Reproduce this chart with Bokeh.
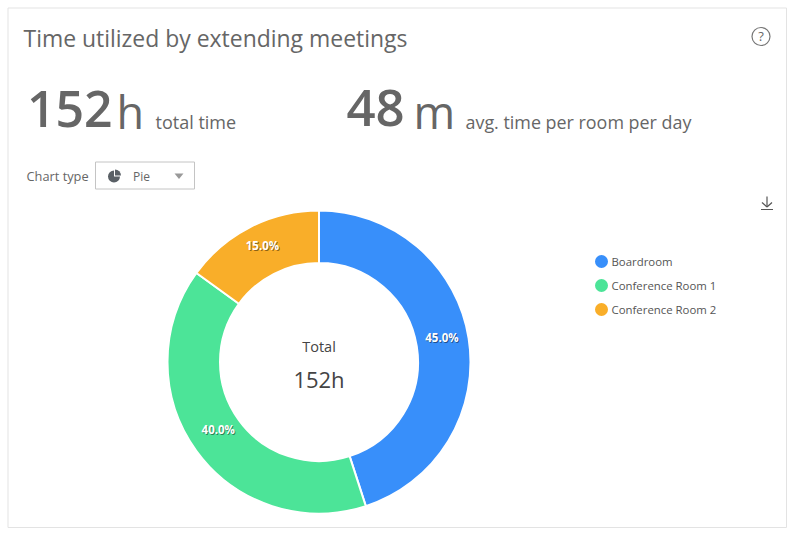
from math import pi, sin, cos

from bokeh.core.properties import value
from bokeh.embed import file_html
from bokeh.models import Range1d
from bokeh.plotting import figure
from bokeh.resources import INLINE

rooms = ["Boardroom", "Conference Room 1", "Conference Room 2"]
shares = [45.0, 40.0, 15.0]
colors = ["#388ffa", "#4ce498", "#f9ae29"]
title_text = "Time utilized by extending meetings"
total_value = "152"
total_unit = "h"
total_label = "total time"
avg_value = "48"
avg_unit = "m"
avg_label = "avg. time per room per day"

FONT = value("Open Sans")
GREY = "#666666"


# y runs upward in bokeh, the layout below is measured from the top of the page
def Y(py):
    return 535 - py


p = figure(width=790, height=530, output_backend="svg", toolbar_location=None, tools="",
           x_range=Range1d(1, 791), y_range=Range1d(4, 534), min_border=0,
           x_axis_location=None, y_axis_location=None)
p.grid.visible = False
p.outline_line_color = None

# card border
p.quad(left=[8.5], right=[787], top=[Y(8.5)], bottom=[Y(528)], fill_color="white", line_color="#e3e3e3")


def label(x, base, text, size, color=GREY, align="left", font=FONT):
    # the anchor lands about 0.4 em above the letters' baseline
    p.text([x], [Y(base - 0.4 * size)], text=[text], text_font=font, text_font_size=f"{size}px",
           text_color=color, text_align=align, text_baseline="alphabetic")


# header
label(24, 48, title_text, 22.95)
label(27.5, 129, total_value, 50, font=value("Open Sans SemiBold"))
label(117, 130, total_unit, 45)
label(156, 130, total_label, 18)
label(347, 129, avg_value, 51, font=value("Open Sans SemiBold"))
label(414, 130, avg_unit, 45)
label(466, 130, avg_label, 17.9)

# help icon
p.scatter([761.5], [Y(37)], size=18, marker="circle", fill_color=None, line_color="#777777", line_width=1.2)
label(761.5, 42, "?", 13, align="center")

# chart type selector
label(27, 182, "Chart type", 12.8)
p.quad(left=[96], right=[195], top=[Y(162.5)], bottom=[Y(189.5)], fill_color="white", line_color="#c4c4c4")
p.wedge([114.5], [Y(177)], radius=6, start_angle=pi / 2, end_angle=0, direction="anticlock",
        fill_color="#5a6066", line_color=None)
p.wedge([115.5], [Y(176)], radius=6, start_angle=0, end_angle=pi / 2, direction="anticlock",
        fill_color="#5a6066", line_color=None)
label(133.5, 182, "Pie", 12)
p.patch([175, 184, 179.5], [Y(174), Y(174), Y(179.5)], fill_color="#999999", line_color=None)

# download icon
p.segment([767.5, 762.5, 772.5, 761.5], [Y(197), Y(203), Y(203), Y(210)], [767.5, 767.5, 767.5, 773.5],
          [Y(207), Y(207.5), Y(207.5), Y(210)], line_color="#555555", line_width=1.2)

# donut
cx, cy = 319.5, Y(362.5)
angle = pi / 2
for room, share, color in zip(rooms, shares, colors):
    sweep = share / sum(shares) * 2 * pi
    p.annular_wedge([cx], [cy], inner_radius=99, outer_radius=151.5, start_angle=angle, end_angle=angle - sweep,
                    direction="clock", fill_color=color, line_color="white", line_width=2)
    mid = angle - sweep / 2
    lx, ly = cx + 124.5 * cos(mid), cy + 124.5 * sin(mid) + 5.5
    text = f"{share:.1f}%"
    p.text([lx + 1], [ly - 1], text=[text], text_font=FONT, text_font_size="11.5px", text_font_style="bold",
           text_color="#000000", text_alpha=0.45, text_align="center", text_baseline="middle")
    p.text([lx], [ly], text=[text], text_font=FONT, text_font_size="11.5px", text_font_style="bold",
           text_color="white", text_align="center", text_baseline="middle")
    angle -= sweep

label(319.5, 353, "Total", 14.5, color="#444444", align="center")
label(319.5, 388, total_value + total_unit, 22, color="#444444", align="center")

# legend
for i, (room, color) in enumerate(zip(rooms, colors)):
    y = 262 + i * 24
    p.scatter([602], [Y(y)], size=13, marker="circle", fill_color=color, line_color=None)
    label(612, y + 5, room, 11.4, color="#555555")

open("out.html", "w").write(file_html(p, INLINE))
